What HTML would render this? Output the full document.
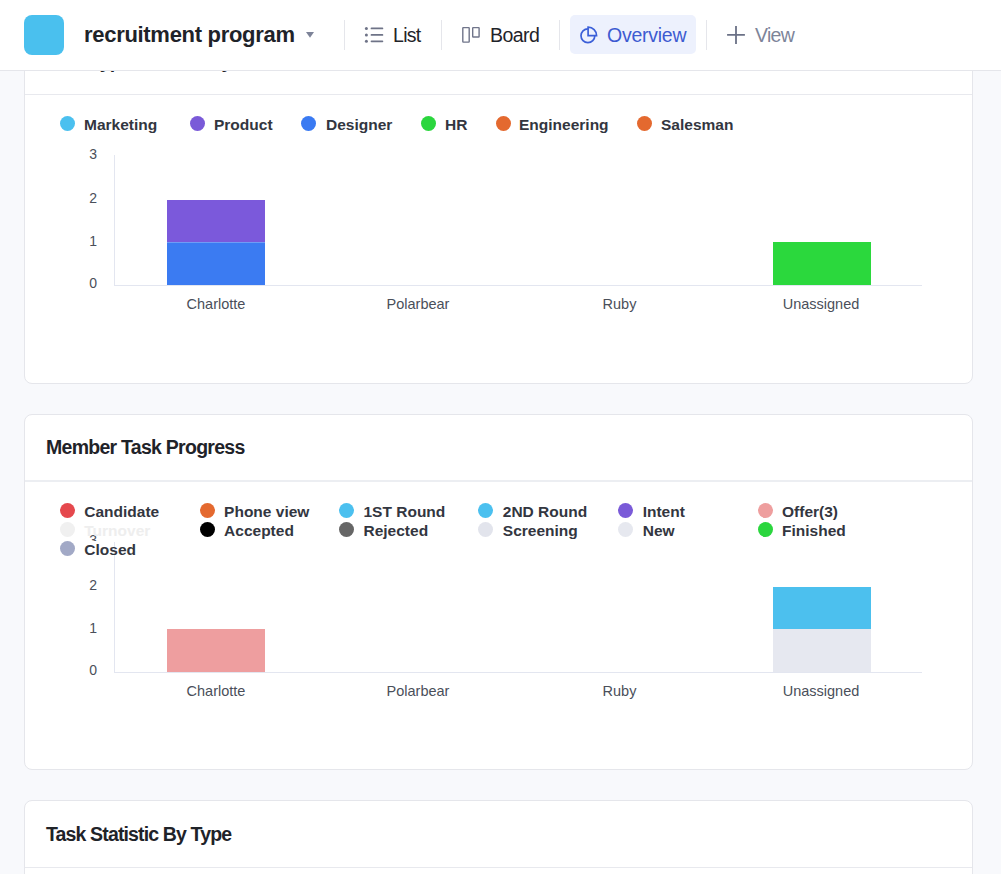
<!DOCTYPE html>
<html>
<head>
<meta charset="utf-8">
<style>
*{box-sizing:border-box;margin:0;padding:0}
html,body{width:1001px;height:874px;overflow:hidden;background:#f8f9fc;font-family:"Liberation Sans",sans-serif;position:relative}
.abs{position:absolute}
.card{position:absolute;left:24px;width:949px;height:356px;background:#fff;border:1px solid #e5e6eb;border-radius:8px;overflow:hidden}
.card .hd{position:absolute;left:0;right:0;top:0;height:66px;border-bottom:1px solid #e8e9ee}
.card .title{position:absolute;left:21px;top:-1px;line-height:66px;font-size:19.5px;letter-spacing:-0.6px;font-weight:700;color:#1f2329;white-space:nowrap}
.lg{position:absolute;white-space:nowrap;font-size:15.5px;font-weight:700;color:#333640;line-height:20px}
.dot{position:absolute;width:15px;height:15px;border-radius:50%}
.yl{position:absolute;width:20px;text-align:right;font-size:14px;color:#4a4f5a;line-height:16px}
.xl{position:absolute;width:120px;text-align:center;font-size:14.5px;color:#4a4f5a;line-height:18px}
.header{position:absolute;left:0;top:0;width:1001px;height:71px;background:#fff;border-bottom:1px solid #e5e6eb}
.sep{position:absolute;top:20px;width:1px;height:30px;background:#e5e6eb}
.nav{position:absolute;top:0;line-height:70px;font-size:19.5px;letter-spacing:-0.3px;color:#1f2329;white-space:nowrap}
</style>
</head>
<body>

<!-- Card 1 -->
<div class="card" style="top:28px">
  <div class="hd"><div class="title" style="letter-spacing:-0.85px">Task Type Statistic By Member</div></div>
</div>

<!-- Card 2 -->
<div class="card" style="top:414px">
  <div class="hd" style="height:67px;border-bottom:2px solid #eceef2"><div class="title" style="letter-spacing:-0.73px">Member Task Progress</div></div>
</div>

<!-- Card 3 -->
<div class="card" style="top:800px">
  <div class="hd" style="height:67px"><div class="title" style="letter-spacing:-0.86px;top:0">Task Statistic By Type</div></div>
</div>

<!-- charts -->
<div class="abs" style="left:114px;top:155px;width:1px;height:130px;background:#e3e6f0"></div>
<div class="abs" style="left:114px;top:285px;width:808px;height:1px;background:#e3e6f0"></div>
<div class="yl" style="left:77px;top:145.7px">3</div>
<div class="yl" style="left:77px;top:190px">2</div>
<div class="yl" style="left:77px;top:233.4px">1</div>
<div class="yl" style="left:77px;top:275.2px">0</div>
<div class="xl" style="left:156px;top:294.7px">Charlotte</div>
<div class="xl" style="left:358px;top:294.7px">Polarbear</div>
<div class="xl" style="left:559.5px;top:294.7px">Ruby</div>
<div class="xl" style="left:761px;top:294.7px">Unassigned</div>
<div class="abs" style="left:167px;top:200px;width:98px;height:42px;background:#7b59db"></div>
<div class="abs" style="left:167px;top:242px;width:98px;height:1px;background:#6f9cf6"></div>
<div class="abs" style="left:167px;top:243px;width:98px;height:42px;background:#3b7bf2"></div>
<div class="abs" style="left:773px;top:242px;width:98px;height:43px;background:#2bd83d"></div>
<div class="dot" style="left:60px;top:116.1px;background:#4bc0ef"></div>
<div class="lg" style="left:84px;top:115px;color:#333640">Marketing</div>
<div class="dot" style="left:189.6px;top:116.1px;background:#7a5ad8"></div>
<div class="lg" style="left:214px;top:115px;color:#333640">Product</div>
<div class="dot" style="left:301.3px;top:116.1px;background:#3a7af2"></div>
<div class="lg" style="left:326px;top:115px;color:#333640">Designer</div>
<div class="dot" style="left:420.7px;top:116.1px;background:#2bd63e"></div>
<div class="lg" style="left:445px;top:115px;color:#333640">HR</div>
<div class="dot" style="left:495.5px;top:116.1px;background:#e4692f"></div>
<div class="lg" style="left:519px;top:115px;color:#333640">Engineering</div>
<div class="dot" style="left:637.2px;top:116.1px;background:#e4692f"></div>
<div class="lg" style="left:661px;top:115px;color:#333640">Salesman</div>
<div class="abs" style="left:114px;top:542px;width:1px;height:130px;background:#e3e6f0"></div>
<div class="abs" style="left:114px;top:672px;width:808px;height:1px;background:#e3e6f0"></div>
<div class="yl" style="left:77px;top:532px;height:9px;overflow:hidden">3</div>
<div class="yl" style="left:77px;top:577px">2</div>
<div class="yl" style="left:77px;top:620.4px">1</div>
<div class="yl" style="left:77px;top:662.2px">0</div>
<div class="xl" style="left:156px;top:681.7px">Charlotte</div>
<div class="xl" style="left:358px;top:681.7px">Polarbear</div>
<div class="xl" style="left:559.5px;top:681.7px">Ruby</div>
<div class="xl" style="left:761px;top:681.7px">Unassigned</div>
<div class="abs" style="left:167px;top:629px;width:98px;height:43px;background:#ee9e9f"></div>
<div class="abs" style="left:773px;top:587px;width:98px;height:42px;background:#4cc0ee"></div>
<div class="abs" style="left:773px;top:629px;width:98px;height:43px;background:#e6e8f0"></div>
<div class="dot" style="left:59.8px;top:503.1px;background:#e5484d"></div>
<div class="lg" style="left:84.3px;top:502px;color:#333640">Candidate</div>
<div class="dot" style="left:199.6px;top:503.1px;background:#e4692f"></div>
<div class="lg" style="left:224.1px;top:502px;color:#333640">Phone view</div>
<div class="dot" style="left:339px;top:503.1px;background:#4bc0ef"></div>
<div class="lg" style="left:363.5px;top:502px;color:#333640">1ST Round</div>
<div class="dot" style="left:478.3px;top:503.1px;background:#4bc0ef"></div>
<div class="lg" style="left:502.8px;top:502px;color:#333640">2ND Round</div>
<div class="dot" style="left:618.2px;top:503.1px;background:#7a5ad8"></div>
<div class="lg" style="left:642.7px;top:502px;color:#333640">Intent</div>
<div class="dot" style="left:757.5px;top:503.1px;background:#ee9e9e"></div>
<div class="lg" style="left:782.0px;top:502px;color:#333640">Offer(3)</div>
<div class="dot" style="left:59.8px;top:521.9px;background:#f0f0f0"></div>
<div class="lg" style="left:84.3px;top:520.9px;color:#eeeeee">Turnover</div>
<div class="dot" style="left:199.6px;top:521.9px;background:#000000"></div>
<div class="lg" style="left:224.1px;top:520.9px;color:#333640">Accepted</div>
<div class="dot" style="left:339px;top:521.9px;background:#666666"></div>
<div class="lg" style="left:363.5px;top:520.9px;color:#333640">Rejected</div>
<div class="dot" style="left:478.3px;top:521.9px;background:#e2e4ec"></div>
<div class="lg" style="left:502.8px;top:520.9px;color:#333640">Screening</div>
<div class="dot" style="left:618.2px;top:521.9px;background:#e6e8ef"></div>
<div class="lg" style="left:642.7px;top:520.9px;color:#333640">New</div>
<div class="dot" style="left:757.5px;top:521.9px;background:#2bd63e"></div>
<div class="lg" style="left:782.0px;top:520.9px;color:#333640">Finished</div>
<div class="dot" style="left:59.8px;top:540.7px;background:#a2a9c6"></div>
<div class="lg" style="left:84.3px;top:539.8px;color:#333640">Closed</div>

<!-- Header -->
<div class="header">
  <div class="abs" style="left:24px;top:15px;width:40px;height:40px;border-radius:8px;background:#4ac0ee"></div>
  <div class="abs" style="left:84px;top:0;line-height:70px;font-size:22px;font-weight:700;color:#1f2329;letter-spacing:-0.3px;white-space:nowrap">recruitment program</div>

  <div class="abs" style="left:570px;top:15px;width:126px;height:39px;border-radius:5px;background:#edf1fd"></div>
  <svg class="abs" style="left:0;top:0" width="1001" height="70" viewBox="0 0 1001 70">
    <path d="M306,32 L314,32 L310,37.7 Z" fill="#7d8398"/>
    <g fill="#6e7387"><circle cx="366.4" cy="28.4" r="1.5"/><circle cx="366.4" cy="34.9" r="1.5"/><circle cx="366.4" cy="41.3" r="1.5"/></g>
    <g stroke="#6e7387" stroke-width="1.8" stroke-linecap="round" fill="none"><path d="M371.5,28.4 H382.4 M371.5,34.9 H382.4 M371.5,41.3 H382.4"/></g>
    <g stroke="#70758a" stroke-width="1.4" fill="none"><rect x="462.8" y="27.6" width="6.4" height="14.5" rx="0.5"/><rect x="472.7" y="27.6" width="6.4" height="9.4" rx="0.5"/></g>
    <g stroke="#3b5fd8" stroke-width="1.7" fill="none" stroke-linejoin="miter">
      <path d="M587.9,28.8 A6.9,6.9 0 1 0 594.8,35.7"/>
      <path d="M588.1,27.2 V35.7 H596.6 A8.5,8.5 0 0 0 588.1,27.2 Z"/>
    </g>
    <g stroke="#6b7186" stroke-width="1.8"><path d="M727.1,34.9 H744.9 M736,26 V43.9"/></g>
  </svg>
  <div class="sep" style="left:344px"></div>
  <div class="sep" style="left:441px"></div>
  <div class="sep" style="left:559px"></div>
  <div class="sep" style="left:706px"></div>
  <div class="nav" style="left:393px;letter-spacing:-0.7px">List</div>
  <div class="nav" style="left:490px;letter-spacing:-0.55px">Board</div>
  <div class="nav" style="left:607px;color:#3d5bd1;letter-spacing:-0.25px">Overview</div>
  <div class="nav" style="left:755px;color:#7d8499;letter-spacing:-0.7px">View</div>
</div>

</body>
</html>
